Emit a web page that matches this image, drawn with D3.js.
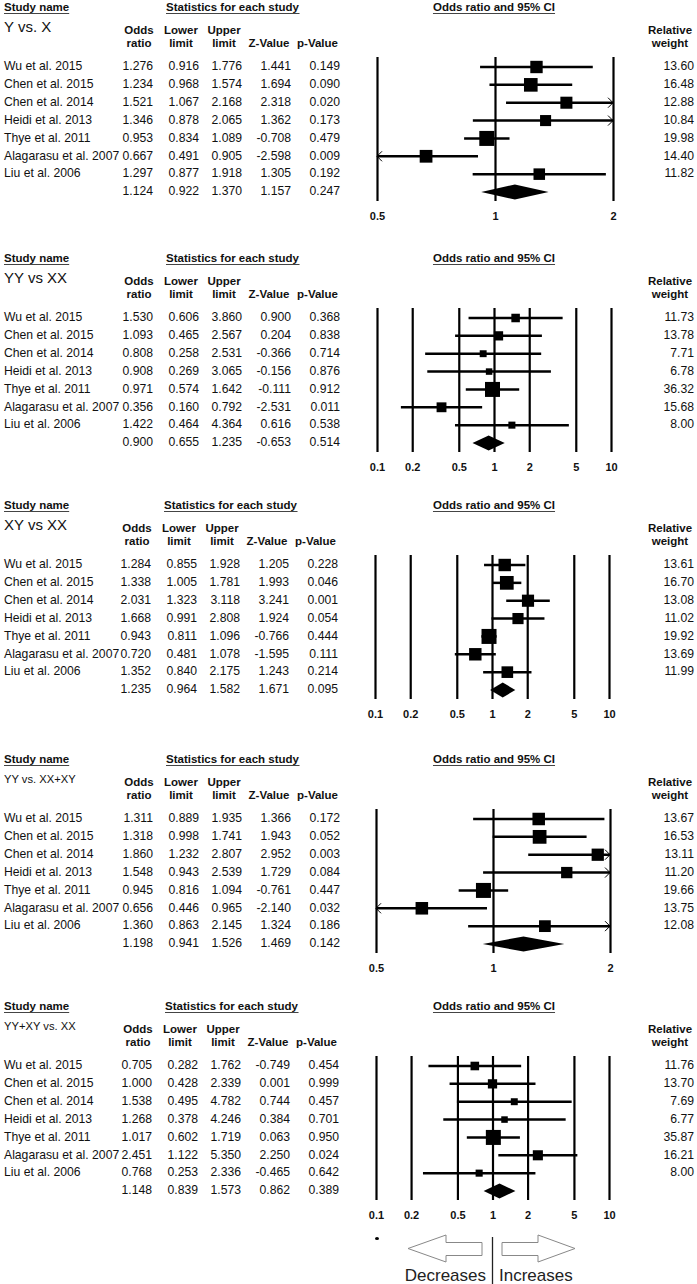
<!DOCTYPE html>
<html><head><meta charset="utf-8">
<script src="https://cdn.jsdelivr.net/npm/d3@7"></script>
<style>
html,body{margin:0;padding:0;background:#fff;}
svg{display:block;font-family:"Liberation Sans",Arial,sans-serif;}
</style></head>
<body><svg id="c" width="697" height="1284"></svg>
<script>
// ---------- data ----------
const studies = ["Wu et al. 2015","Chen et al. 2015","Chen et al. 2014","Heidi et al. 2013","Thye et al. 2011","Alagarasu et al. 2007","Liu et al. 2006"];
const titles = ["Y vs. X","YY vs XX","XY vs XX","YY vs. XX+XY","YY+XY vs. XX"];

// panel 1 : Y vs. X   (last value = pooled)
const or1 = [1.276,1.234,1.521,1.346,0.953,0.667,1.297,1.124];
const lo1 = [0.916,0.968,1.067,0.878,0.834,0.491,0.877,0.922];
const up1 = [1.776,1.574,2.168,2.065,1.089,0.905,1.918,1.370];
const z1  = [1.441,1.694,2.318,1.362,-0.708,-2.598,1.305,1.157];
const p1  = [0.149,0.090,0.020,0.173,0.479,0.009,0.192,0.247];
const w1  = [13.60,16.48,12.88,10.84,19.98,14.40,11.82];
// panel 2 : YY vs XX
const or2 = [1.530,1.093,0.808,0.908,0.971,0.356,1.422,0.900];
const lo2 = [0.606,0.465,0.258,0.269,0.574,0.160,0.464,0.655];
const up2 = [3.860,2.567,2.531,3.065,1.642,0.792,4.364,1.235];
const z2  = [0.900,0.204,-0.366,-0.156,-0.111,-2.531,0.616,-0.653];
const p2  = [0.368,0.838,0.714,0.876,0.912,0.011,0.538,0.514];
const w2  = [11.73,13.78,7.71,6.78,36.32,15.68,8.00];
// panel 3 : XY vs XX
const or3 = [1.284,1.338,2.031,1.668,0.943,0.720,1.352,1.235];
const lo3 = [0.855,1.005,1.323,0.991,0.811,0.481,0.840,0.964];
const up3 = [1.928,1.781,3.118,2.808,1.096,1.078,2.175,1.582];
const z3  = [1.205,1.993,3.241,1.924,-0.766,-1.595,1.243,1.671];
const p3  = [0.228,0.046,0.001,0.054,0.444,0.111,0.214,0.095];
const w3  = [13.61,16.70,13.08,11.02,19.92,13.69,11.99];
// panel 4 : YY vs. XX+XY
const or4 = [1.311,1.318,1.860,1.548,0.945,0.656,1.360,1.198];
const lo4 = [0.889,0.998,1.232,0.943,0.816,0.446,0.863,0.941];
const up4 = [1.935,1.741,2.807,2.539,1.094,0.965,2.145,1.526];
const z4  = [1.366,1.943,2.952,1.729,-0.761,-2.140,1.324,1.469];
const p4  = [0.172,0.052,0.003,0.084,0.447,0.032,0.186,0.142];
const w4  = [13.67,16.53,13.11,11.20,19.66,13.75,12.08];
// panel 5 : YY+XY vs. XX
const or5 = [0.705,1.000,1.538,1.268,1.017,2.451,0.768,1.148];
const lo5 = [0.282,0.428,0.495,0.378,0.602,1.122,0.253,0.839];
const up5 = [1.762,2.339,4.782,4.246,1.719,5.350,2.336,1.573];
const z5  = [-0.749,0.001,0.744,0.384,0.063,2.250,-0.465,0.862];
const p5  = [0.454,0.999,0.457,0.701,0.950,0.024,0.642,0.389];
const w5  = [11.76,13.70,7.69,6.77,35.87,16.21,8.00];

const ticksNarrow = [0.5,1,2];
const ticksWide = [0.1,0.2,0.5,1,2,5,10];

const panels = [
  {title:titles[0], or:or1, lo:lo1, up:up1, z:z1, p:p1, w:w1, ticks:ticksNarrow},
  {title:titles[1], or:or2, lo:lo2, up:up2, z:z2, p:p2, w:w2, ticks:ticksWide},
  {title:titles[2], or:or3, lo:lo3, up:up3, z:z3, p:p3, w:w3, ticks:ticksWide},
  {title:titles[3], or:or4, lo:lo4, up:up4, z:z4, p:p4, w:w4, ticks:ticksNarrow},
  {title:titles[4], or:or5, lo:lo5, up:up5, z:z5, p:p5, w:w5, ticks:ticksWide}
];
// ---------- layout ----------
const offsets = [0,251,498,752,999];
const titleSize = [15,15,15,11.2,11.2];
const xRanges = [[377,613],[377,611],[375,609],[376,610],[376,609]];
const colDx = [0,0,-2,0,-1];

const svg = d3.select("#c");
const hdrFont = 11.5, dataFont = 12.2;

function underlinedText(g, x, y, txt, anchor){
  const t = g.append("text").attr("x",x).attr("y",y).attr("text-anchor",anchor||"start")
    .attr("font-size",hdrFont).attr("font-weight","bold").attr("fill","#111").text(txt);
  const bb = t.node().getBBox();
  g.append("line").attr("x1",bb.x).attr("x2",bb.x+bb.width).attr("y1",y+2.5).attr("y2",y+2.5)
    .attr("stroke","#444").attr("stroke-width",1);
}

panels.forEach((P,k)=>{
  const off = offsets[k];
  const dx = colDx[k];
  const g = svg.append("g");
  // headers
  underlinedText(g, 4, off+11, "Study name");
  underlinedText(g, 166+dx, off+11, "Statistics for each study");
  underlinedText(g, 494, off+11, "Odds ratio and 95% CI", "middle");
  g.append("text").attr("x",4).attr("y",off+28).attr("dominant-baseline","middle")
    .attr("font-size",titleSize[k]).attr("fill","#111").text(P.title);
  const heads = [["Odds","ratio",139],["Lower","limit",181],["Upper","limit",224],["","Z-Value",269],["","p-Value",317.5]];
  heads.forEach(h=>{
    if(h[0]) g.append("text").attr("x",h[2]+dx).attr("y",off+34).attr("text-anchor","middle")
      .attr("font-size",hdrFont).attr("font-weight","bold").attr("fill","#111").text(h[0]);
    g.append("text").attr("x",h[2]+dx).attr("y",off+47).attr("text-anchor","middle")
      .attr("font-size",hdrFont).attr("font-weight","bold").attr("fill","#111").text(h[1]);
  });
  g.append("text").attr("x",670).attr("y",off+34).attr("text-anchor","middle")
    .attr("font-size",hdrFont).attr("font-weight","bold").attr("fill","#111").text("Relative");
  g.append("text").attr("x",670).attr("y",off+47).attr("text-anchor","middle")
    .attr("font-size",hdrFont).attr("font-weight","bold").attr("fill","#111").text("weight");

  // scales
  const rows = d3.range(8);
  const y = d3.scalePoint().domain(rows).range([off+67, off+192]);
  const x = d3.scaleLog().domain([P.ticks[0], P.ticks[P.ticks.length-1]]).range(xRanges[k]);
  const size = d3.scaleSqrt().domain([0, d3.max(P.w)]).range([0, 15]);

  // table
  const cols = [[P.or,153],[P.lo,199],[P.up,242],[P.z,291],[P.p,340]];
  rows.forEach(i=>{
    if(i<7) g.append("text").attr("x",4).attr("y",y(i)).attr("dominant-baseline","middle")
      .attr("font-size",dataFont).attr("fill","#111").text(studies[i]);
    cols.forEach(c=>{
      g.append("text").attr("x",c[1]+dx).attr("y",y(i)).attr("dominant-baseline","middle")
        .attr("text-anchor","end").attr("font-size",dataFont).attr("fill","#111").text(c[0][i].toFixed(3));
    });
    if(i<7) g.append("text").attr("x",694).attr("y",y(i)).attr("dominant-baseline","middle")
      .attr("text-anchor","end").attr("font-size",dataFont).attr("fill","#111").text(P.w[i].toFixed(2));
  });

  // axis with full-height grid lines
  const top = off+57, bottom = off+201;
  const ax = g.append("g").attr("transform",`translate(0,${bottom})`)
    .call(d3.axisBottom(x).tickValues(P.ticks).tickFormat(d=>String(d)).tickSize(-(bottom-top)).tickPadding(11));
  ax.select(".domain").remove();
  ax.selectAll(".tick line").attr("stroke","#000").attr("stroke-width",2.2);
  ax.selectAll(".tick text").attr("font-size",11).attr("font-weight","bold").attr("fill","#111")
    .attr("font-family","'Liberation Sans',Arial,sans-serif");

  const [xmin,xmax] = x.domain();
  // study rows
  rows.slice(0,7).forEach(i=>{
    const yy = y(i);
    const a = Math.max(P.lo[i], xmin), b = Math.min(P.up[i], xmax);
    g.append("line").attr("x1",x(a)).attr("x2",x(b)).attr("y1",yy).attr("y2",yy)
      .attr("stroke","#000").attr("stroke-width",2.5);
    if(P.up[i] > xmax){
      const xe = x(xmax);
      g.append("path").attr("d",`M${xe-5},${yy-5}L${xe},${yy}L${xe-5},${yy+5}`)
        .attr("fill","none").attr("stroke","#000").attr("stroke-width",1);
    }
    if(P.lo[i] < xmin){
      const xs = x(xmin);
      g.append("path").attr("d",`M${xs+5},${yy-5}L${xs},${yy}L${xs+5},${yy+5}`)
        .attr("fill","none").attr("stroke","#000").attr("stroke-width",1);
    }
    const s = size(P.w[i]);
    g.append("rect").attr("x",x(P.or[i])-s/2).attr("y",yy-s/2).attr("width",s).attr("height",s).attr("fill","#000");
  });
  // pooled diamond
  const ys = y(7);
  g.append("path").attr("d",`M${x(P.lo[7])},${ys}L${x(P.or[7])},${ys-7.5}L${x(P.up[7])},${ys}L${x(P.or[7])},${ys+7.5}Z`)
    .attr("fill","#000");
});

// ---------- bottom direction arrows ----------
const gb = svg.append("g");
gb.append("ellipse").attr("cx",377).attr("cy",1238.5).attr("rx",2).attr("ry",1.5).attr("fill","#000");
gb.append("path").attr("d","M408,1248.5L446,1235L446,1242.5L482,1242.5L482,1255.5L446,1255.5L446,1262Z")
  .attr("fill","#fff").attr("stroke","#888").attr("stroke-width",1);
gb.append("path").attr("d","M575,1248.5L538,1235L538,1242.5L502,1242.5L502,1255.5L538,1255.5L538,1262Z")
  .attr("fill","#fff").attr("stroke","#888").attr("stroke-width",1);
gb.append("line").attr("x1",492.5).attr("x2",492.5).attr("y1",1237).attr("y2",1284).attr("stroke","#222").attr("stroke-width",1.3);
gb.append("text").attr("x",486).attr("y",1281).attr("text-anchor","end").attr("font-size",17).attr("fill","#222").text("Decreases");
gb.append("text").attr("x",499).attr("y",1281).attr("font-size",17).attr("fill","#222").text("Increases");
</script></body></html>
